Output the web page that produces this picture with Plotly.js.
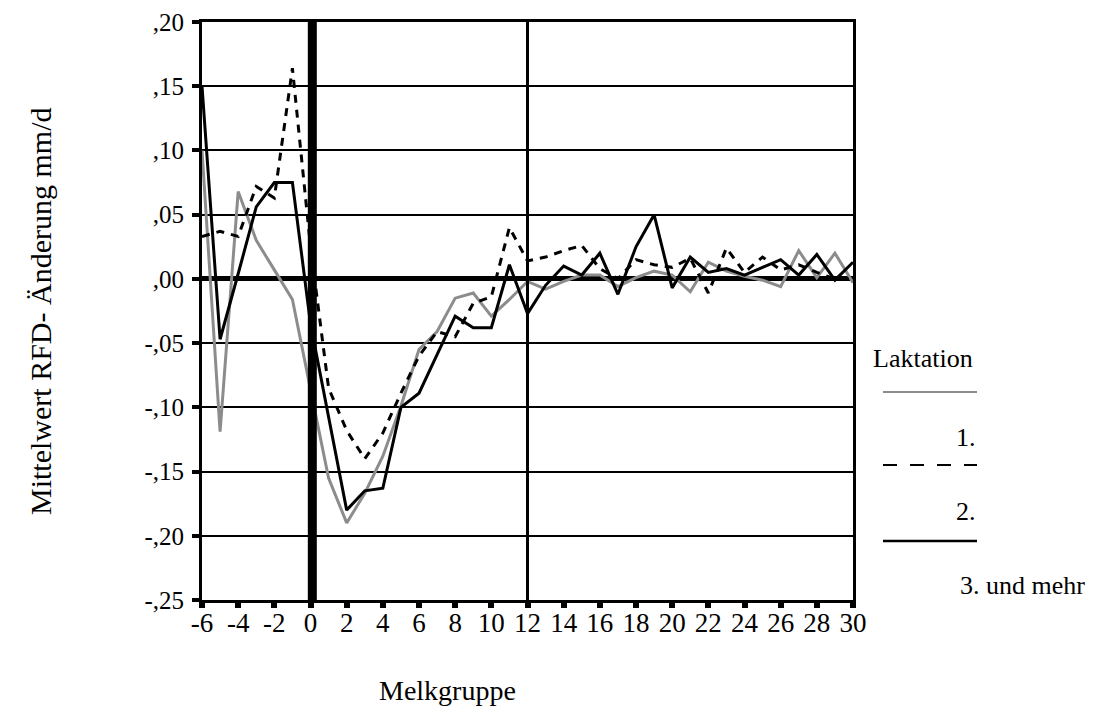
<!DOCTYPE html>
<html>
<head>
<meta charset="utf-8">
<script src="https://cdn.plot.ly/plotly-3.0.1.min.js"></script>
<style>
  html, body { margin: 0; padding: 0; background: #fff; }
  #chart { width: 1101px; height: 722px; }
</style>
</head>
<body>
<div id="chart"></div>
<script>
// Melkgruppe (x categories)
const melkgruppe = [-6,-5,-4,-3,-2,-1,0,1,2,3,4,5,6,7,8,9,10,11,12,13,14,15,16,17,18,19,20,21,22,23,24,25,26,27,28,29,30];

// Mittelwert RFD-Änderung (mm/d) per Laktation
const laktation1 = [0.100,-0.119,0.068,0.030,0.007,-0.016,-0.086,-0.155,-0.190,-0.167,-0.138,-0.099,-0.055,-0.041,-0.015,-0.011,-0.029,-0.016,-0.002,-0.008,-0.002,0.003,0.003,-0.006,0.001,0.006,0.003,-0.010,0.013,0.006,0.002,-0.001,-0.006,0.022,0.001,0.020,-0.003];
const laktation2 = [0.033,0.037,0.033,0.072,0.063,0.164,0.025,-0.085,-0.118,-0.140,-0.120,-0.089,-0.060,-0.041,-0.045,-0.019,-0.014,0.040,0.014,0.017,0.022,0.026,0.008,0.000,0.015,0.011,0.009,0.016,-0.011,0.024,0.005,0.017,0.007,0.011,0.005,0.000,0.000];
const laktation3 = [0.150,-0.047,0.004,0.056,0.075,0.075,-0.035,-0.108,-0.180,-0.165,-0.163,-0.100,-0.089,-0.059,-0.029,-0.038,-0.038,0.011,-0.027,-0.005,0.010,0.003,0.020,-0.012,0.025,0.050,-0.007,0.017,0.005,0.008,0.003,0.009,0.015,0.003,0.019,-0.001,0.013];

// Axis tick labels
const xTickVals = [-6,-4,-2,0,2,4,6,8,10,12,14,16,18,20,22,24,26,28,30];
const xTickText = ["-6","-4","-2","0","2","4","6","8","10","12","14","16","18","20","22","24","26","28","30"];
const yTickVals = [-0.25,-0.20,-0.15,-0.10,-0.05,0,0.05,0.10,0.15,0.20];
const yTickText = ["-,25","-,20","-,15","-,10","-,05",",00",",05",",10",",15",",20"];

// Legend labels
const legendTitle = "Laktation";
const seriesNames = ["1.","2.","3. und mehr"];

const FONT = "Liberation Serif, Times New Roman, serif";
const GRAY = "#8c8c8c";

const traces = [
  {x: melkgruppe, y: laktation1, type: "scatter", mode: "lines", name: seriesNames[0],
   line: {color: GRAY, width: 3}},
  {x: melkgruppe, y: laktation2, type: "scatter", mode: "lines", name: seriesNames[1],
   line: {color: "#000", width: 3, dash: "8px,7px"}},
  {x: melkgruppe, y: laktation3, type: "scatter", mode: "lines", name: seriesNames[2],
   line: {color: "#000", width: 3}}
];

// plot area in pixels: x 202..853, y 22..600
const L = 202, R = 853, T = 22, B = 600;
const px = v => (v - L) / (R - L);
const py = v => (B - v) / (B - T);

const layout = {
  width: 1101, height: 722,
  margin: {l: L, r: 1101 - R, t: T, b: 722 - B, pad: 0},
  paper_bgcolor: "#fff", plot_bgcolor: "#fff",
  showlegend: false,
  font: {family: FONT, color: "#000", size: 24},
  xaxis: {
    range: [-6, 30], tickmode: "array", tickvals: xTickVals, ticktext: xTickText,
    showgrid: false, zeroline: false,
    showline: true, linecolor: "#000", linewidth: 3, mirror: true,
    ticks: "outside", ticklen: 5, tickwidth: 6, tickcolor: "#000",
    tickfont: {family: FONT, size: 27, color: "#000"},
    ticklabelstandoff: -8
  },
  yaxis: {
    range: [-0.25, 0.20], tickmode: "array", tickvals: yTickVals, ticktext: yTickText,
    showgrid: true, gridcolor: "#000", gridwidth: 2,
    zeroline: true, zerolinecolor: "#000", zerolinewidth: 5,
    showline: true, linecolor: "#000", linewidth: 3, mirror: true,
    ticks: "outside", ticklen: 7, tickwidth: 4, tickcolor: "#000",
    tickfont: {family: FONT, size: 25, color: "#000"},
    ticklabelstandoff: 3
  },
  shapes: [
    {type: "line", xref: "x", yref: "y", x0: 0.1, x1: 0.1, y0: -0.25, y1: 0.20,
     line: {color: "#000", width: 9}, layer: "above"},
    {type: "line", xref: "x", yref: "y", x0: 12, x1: 12, y0: -0.25, y1: 0.20,
     line: {color: "#000", width: 3}, layer: "above"},
    // legend samples
    {type: "line", xref: "paper", yref: "paper", x0: px(883), x1: px(977), y0: py(392), y1: py(392),
     line: {color: GRAY, width: 2}},
    {type: "line", xref: "paper", yref: "paper", x0: px(883), x1: px(977), y0: py(465), y1: py(465),
     line: {color: "#000", width: 2, dash: "14px,13px"}},
    {type: "line", xref: "paper", yref: "paper", x0: px(883), x1: px(977), y0: py(541), y1: py(541),
     line: {color: "#000", width: 2.5}}
  ],
  annotations: [
    {text: "Mittelwert RFD- Änderung mm/d", xref: "paper", yref: "paper",
     x: px(40), y: py(312), textangle: -90, showarrow: false,
     xanchor: "center", yanchor: "middle", font: {family: FONT, size: 30, color: "#000"}},
    {text: "Melkgruppe", xref: "paper", yref: "paper",
     x: px(447), y: py(690), showarrow: false,
     xanchor: "center", yanchor: "middle", font: {family: FONT, size: 28, color: "#000"}},
    {text: legendTitle, xref: "paper", yref: "paper", x: px(975), y: py(358), showarrow: false,
     xanchor: "right", yanchor: "middle", font: {family: FONT, size: 26, color: "#000"}},
    {text: seriesNames[0], xref: "paper", yref: "paper", x: px(978), y: py(438), showarrow: false,
     xanchor: "right", yanchor: "middle", font: {family: FONT, size: 26, color: "#000"}},
    {text: seriesNames[1], xref: "paper", yref: "paper", x: px(978), y: py(511), showarrow: false,
     xanchor: "right", yanchor: "middle", font: {family: FONT, size: 26, color: "#000"}},
    {text: seriesNames[2], xref: "paper", yref: "paper", x: px(958), y: py(585), showarrow: false,
     xanchor: "left", yanchor: "middle", font: {family: FONT, size: 26, color: "#000"}}
  ]
};

Plotly.newPlot("chart", traces, layout, {displayModeBar: false, staticPlot: true});
</script>
</body>
</html>
